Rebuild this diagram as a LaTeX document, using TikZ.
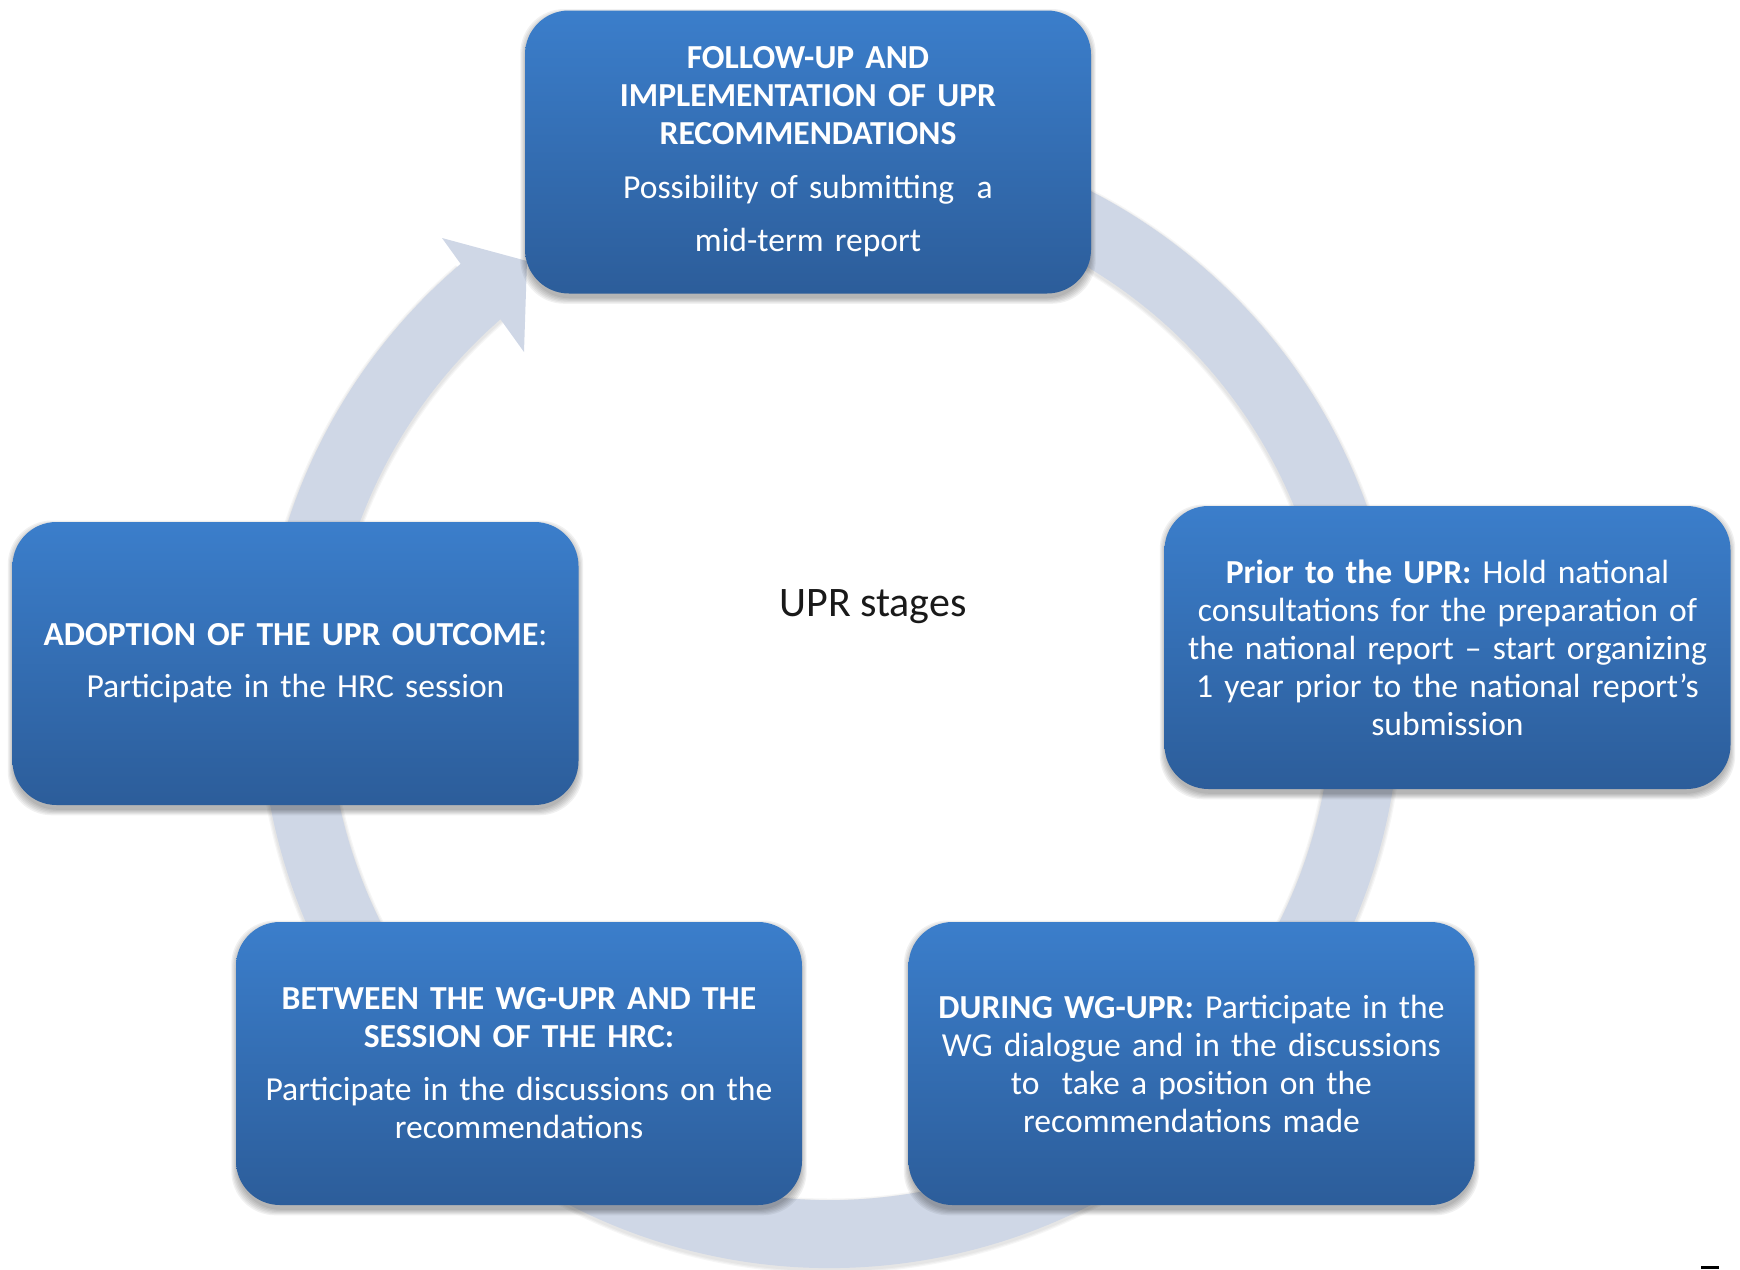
\documentclass[tikz,border=0pt]{standalone}
\usepackage{fontspec}
\setmainfont{Carlito}
\usetikzlibrary{calc}
\definecolor{ringc}{RGB}{207,215,230}
\definecolor{boxtop}{RGB}{59,126,203}
\definecolor{boxbot}{RGB}{44,93,154}
\pgfdeclarelayer{ringlayer}
\pgfdeclarelayer{shadelayer}
\pgfsetlayers{ringlayer,shadelayer,main}
\newcommand\softshadow[1]{%
  \begin{pgfonlayer}{shadelayer}
    \foreach \k in {0,...,5}{
      \fill[black, opacity=0.055, rounded corners=22pt]
        ([xshift={-\k*0.55pt+0.6pt}, yshift={-2.2pt-\k*0.55pt}]#1.south west)
        rectangle ([xshift={\k*0.55pt-0.6pt}, yshift={-2.2pt+\k*0.55pt}]#1.north east);
    }
  \end{pgfonlayer}}
\tikzset{
  stagebox/.style={rectangle, rounded corners=22pt, minimum width=283pt,
    minimum height=141.5pt, inner sep=0pt, text width=280pt, align=center,
    top color=boxtop, bottom color=boxbot, draw=none, text=white,
    font=\fontsize{16.8}{19}\selectfont},
  ringline/.style={ringc, line width=34pt},
}
\begin{document}
\begin{tikzpicture}[x=0.5pt, y=-0.5pt]
\path[use as bounding box] (0,0) rectangle (1740,1269);
\coordinate (C) at (830,698);
% ring with arrow
\begin{pgfonlayer}{ringlayer}
  \foreach \k in {1,2,3}{
    \draw[black, opacity=0.035, line width={34pt+\k*1.2pt}]
      ($(C)+(0,2)+(-100:536)$) arc[start angle=-100, end angle=229.3, radius=536];
  }
  \draw[ringline] ($(C)+(-100:536)$) coordinate (ringstart)
    arc[start angle=-100, end angle=231.5, radius=536] coordinate (ringend);
  \coordinate (barbout) at (442,238);
  \coordinate (tip) at (527,261);
  \coordinate (barbin) at (524,352);
  \fill[ringc] (barbout) -- (tip) -- (barbin) -- cycle;
\end{pgfonlayer}
% boxes
\node[stagebox] (follow) at (808,152) {\textbf{FOLLOW-UP AND}\\ \textbf{IMPLEMENTATION OF UPR}\\ \textbf{RECOMMENDATIONS}\\[8pt] Possibility of submitting\ \ a\\[7.5pt] mid-term report};
\softshadow{follow}
\node[stagebox] (prior) at (1447.5,647.5) {\textbf{Prior to the UPR:} Hold national\\ consultations for the preparation of\\ the national report – start organizing\\ 1 year prior to the national report’s\\ submission};
\softshadow{prior}
\node[stagebox] (during) at (1191.5,1063.5) {\textbf{DURING WG-UPR:} Participate in the\\ WG dialogue and in the discussions\\ to\ \ take a position on the\\ recommendations made};
\softshadow{during}
\node[stagebox] (between) at (519,1063.5) {\textbf{BETWEEN THE WG-UPR AND THE}\\ \textbf{SESSION OF THE HRC:}\\[7.5pt] Participate in the discussions on the\\ recommendations};
\softshadow{between}
\node[stagebox] (adoption) at (295.5,663.5) {\textbf{ADOPTION OF THE UPR OUTCOME}:\\[7pt] Participate in the HRC session};
\softshadow{adoption}
\node[text=black!90, font=\fontsize{21}{25}\selectfont] (stages) at (873,607) {UPR stages};
\fill[black] (1701,1266) rectangle (1719,1269);
\end{tikzpicture}
\end{document}
